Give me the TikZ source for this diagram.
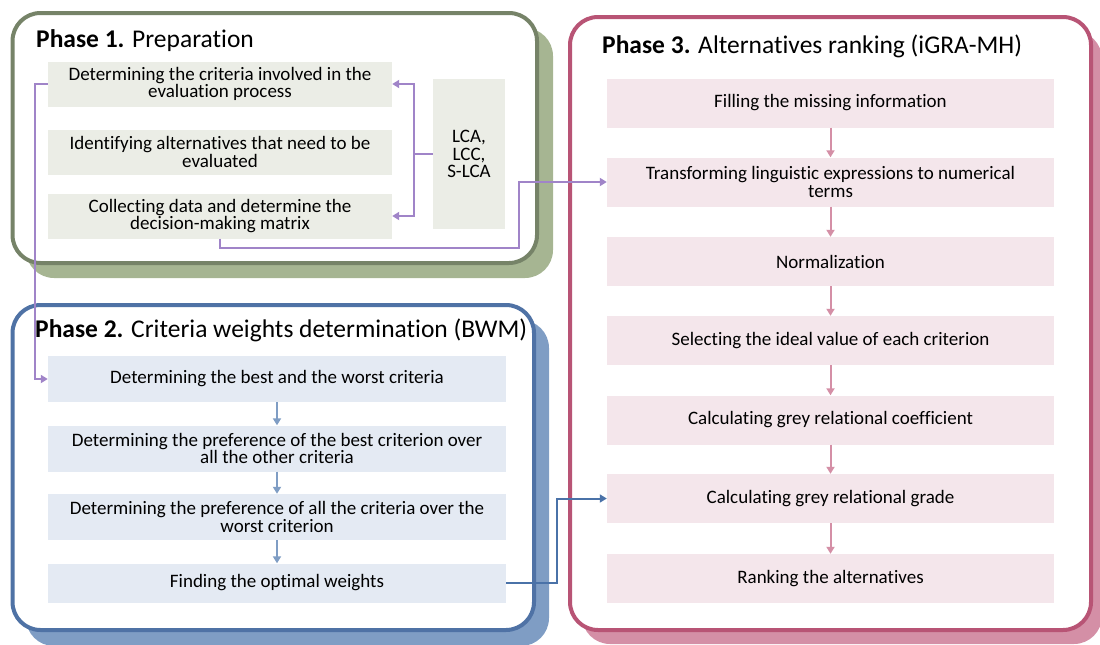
\documentclass[tikz,border=0pt]{standalone}
\usepackage{fontspec}
\setmainfont{Carlito}[RawFeature={-liga;-clig;-calt;-dlig}]
\usetikzlibrary{arrows.meta}
\definecolor{ponebord}{RGB}{118,131,104}
\definecolor{poneshad}{RGB}{166,181,146}
\definecolor{ponefill}{RGB}{235,237,230}
\definecolor{ptwobord}{RGB}{79,114,165}
\definecolor{ptwoshad}{RGB}{127,157,196}
\definecolor{ptwofill}{RGB}{228,234,243}
\definecolor{pthrbord}{RGB}{184,84,117}
\definecolor{pthrshad}{RGB}{212,143,166}
\definecolor{pthrfill}{RGB}{244,230,235}
\definecolor{linkpurple}{RGB}{160,132,200}
\definecolor{linkblue}{RGB}{74,114,168}
\tikzset{
  frame/.style={rounded corners=28pt, line width=4pt, fill=white},
  shade/.style={rounded corners=28pt},
  stepbox/.style={inner sep=0pt, align=center, font=\fontsize{19}{17.2}\selectfont},
  onebox/.style={stepbox, fill=ponefill, minimum width=344pt, minimum height=45pt},
  twobox/.style={stepbox, fill=ptwofill, minimum width=458pt, minimum height=46pt},
  thrbox/.style={stepbox, fill=pthrfill, minimum width=447pt, minimum height=49pt},
  title/.style={anchor=base west, inner sep=0pt, font=\fontsize{25.5}{28}\selectfont},
  tip/.style={-{Triangle[length=7pt,width=8pt]}},
  plink/.style={draw=linkpurple, line width=2pt, tip},
  blink/.style={draw=linkblue, line width=2pt, tip},
  twoarrow/.style={draw=ptwoshad, line width=2pt, tip},
  thrarrow/.style={draw=pthrshad, line width=2pt, tip}
}
\begin{document}
\begin{tikzpicture}[x=1pt,y=-1pt]
\useasboundingbox (0,0) rectangle (1100,645);
% shadows
\fill[poneshad, shade] (26,28) rectangle (553,278);
\fill[ptwoshad, shade] (26,320) rectangle (549,646);
\fill[pthrshad, shade] (582,31) rectangle (1102,644);
% frames
\draw[frame, draw=ponebord] (12.5,13) rectangle (537,263);
\draw[frame, draw=ptwobord] (12.5,305) rectangle (534,630);
\draw[frame, draw=pthrbord] (570,17) rectangle (1091,630);
% titles
\node[title] (t1) at (36,47) {\textbf{Phase 1.} Preparation};
\node[title] (t2) at (35,337) {\textbf{Phase 2.} Criteria weights determination (BWM)};
\node[title] (t3) at (602,53) {\textbf{Phase 3.} Alternatives ranking (iGRA-MH)};
% phase 1
\node[onebox] (a1) at (220,84) {Determining the criteria involved in the\\evaluation process};
\node[onebox] (a2) at (220,152) {Identifying alternatives that need to be\\evaluated};
\node[onebox] (a3) at (220,216) {Collecting data and determine the\\decision-making matrix};
\node[stepbox, fill=ponefill, minimum width=72pt, minimum height=150pt] (lca) at (469,154) {LCA,\\LCC,\\S-LCA};
% phase 2
\node[twobox] (b1) at (277,379) {Determining the best and the worst criteria};
\node[twobox] (b2) at (277,448.5) {Determining the preference of the best criterion over\\all the other criteria};
\node[twobox] (b3) at (277,517) {Determining the preference of all the criteria over the\\worst criterion};
\node[twobox, minimum height=39pt] (b4) at (277,583) {Finding the optimal weights};
% phase 3
\node[thrbox] (c1) at (830.5,103) {Filling the missing information};
\node[thrbox] (c2) at (830.5,182) {Transforming linguistic expressions to numerical\\terms};
\node[thrbox] (c3) at (830.5,261.5) {Normalization};
\node[thrbox] (c4) at (830.5,340.5) {Selecting the ideal value of each criterion};
\node[thrbox] (c5) at (830.5,420) {Calculating grey relational coefficient};
\node[thrbox] (c6) at (830.5,498.5) {Calculating grey relational grade};
\node[thrbox] (c7) at (830.5,578.5) {Ranking the alternatives};
% phase 2 arrows
\draw[twoarrow] (b1) -- (b2);
\draw[twoarrow] (b2) -- (b3);
\draw[twoarrow] (b3) -- (b4);
% phase 3 arrows
\draw[thrarrow] (c1) -- (c2);
\draw[thrarrow] (c2) -- (c3);
\draw[thrarrow] (c3) -- (c4);
\draw[thrarrow] (c4) -- (c5);
\draw[thrarrow] (c5) -- (c6);
\draw[thrarrow] (c6) -- (c7);
% purple links
\coordinate (j) at (414,154);
\draw[draw=linkpurple, line width=2pt] (lca.west) -- (j);
\draw[plink] (j) |- (a1.east);
\draw[plink] (j) |- (a3.east);
\coordinate (k) at (35,84);
\draw[plink] (a1.west) -- (k) |- (b1.west);
\coordinate (m1) at (220,248);
\coordinate (m2) at (519,248);
\draw[plink] (a3.south) -- (m1) -- (m2) |- (c2.west);
% blue link
\coordinate (n) at (557,583);
\draw[blink] (b4.east) -- (n) |- (c6.west);
\end{tikzpicture}
\end{document}
